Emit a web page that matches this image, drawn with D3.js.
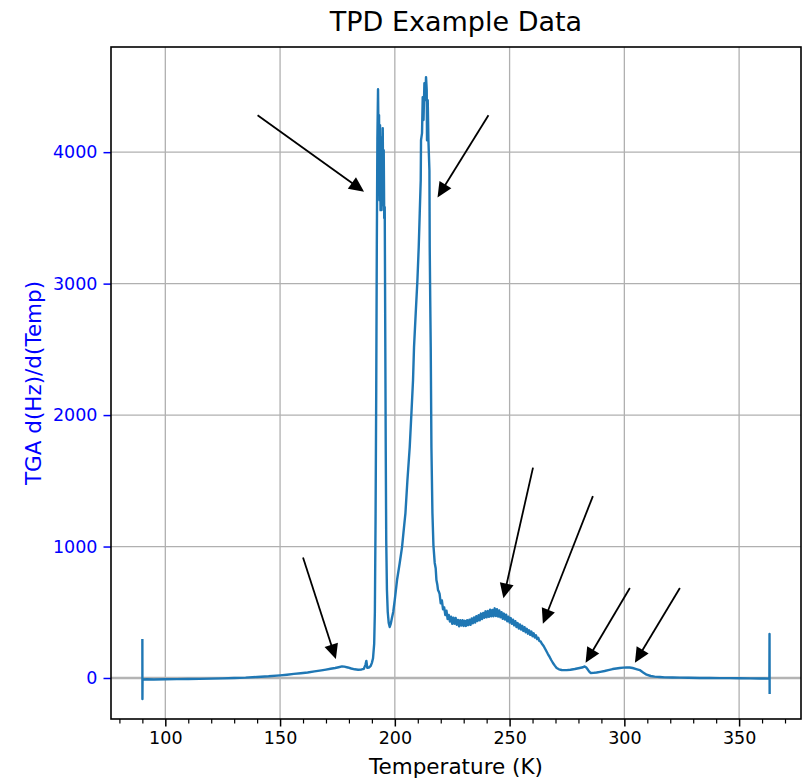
<!DOCTYPE html>
<html>
<head>
<meta charset="utf-8">
<script src="https://cdn.jsdelivr.net/npm/d3@7"></script>
<style>
  body { margin: 0; background: #fff; }
  svg { display: block; font-family: "DejaVu Sans", sans-serif; }
</style>
</head>
<body>
<svg id="chart" width="803" height="781"></svg>
<script>
// Temperature-programmed desorption trace: derivative of the TGA frequency vs temperature
const temperatureK = [
  90.00, 90.03, 90.08, 92, 95, 100, 105, 110, 115, 120,
  125, 130, 135, 140, 145, 150, 153, 156, 159, 162,
  165, 168, 170, 172, 174, 175.5, 177, 178, 179.5, 181,
  182.5, 184, 185.5, 186.5, 187.2, 187.6, 188, 188.8, 189.5, 190.0,
  190.5, 191.0, 191.3, 191.6, 191.9, 192.15, 192.4, 192.68, 192.90, 193.12,
  193.33, 193.55, 193.77, 193.99, 194.21, 194.51, 194.73, 194.95, 195.16, 195.38,
  195.60, 195.82, 196.04, 196.25, 196.56, 196.91, 197.34, 197.78, 198.21, 198.65,
  199.30, 199.96, 200.96, 202.13, 203.14, 203.88, 204.62, 205.49, 206.49, 207.23,
  207.93, 208.36, 209.10, 209.84, 210.41, 210.85, 211.28, 211.41, 211.85, 212.15,
  212.50, 212.89, 213.24, 213.59, 213.89, 214.02, 214.33, 214.63, 215.07, 215.20,
  215.42, 215.64, 215.94, 216.38, 216.81, 217.38, 217.8, 218.12, 218.5, 218.82,
  219.2, 219.5, 220.0, 220.5, 221.0, 221.5, 222.0, 222.5, 223.0, 223.5,
  224.0, 224.5, 225.0, 225.5, 226.0, 226.5, 227.0, 227.5, 228.0, 228.5,
  229.0, 229.5, 230.0, 230.5, 231.0, 231.5, 232.0, 232.5, 233.0, 233.5,
  234.0, 234.5, 235.0, 235.5, 236.0, 236.5, 237.0, 237.5, 238.0, 238.5,
  239.0, 239.5, 240.0, 240.5, 241.0, 241.5, 242.0, 242.5, 243.0, 243.5,
  244.0, 244.5, 245.0, 245.5, 246.0, 246.5, 247.0, 247.5, 248.0, 248.5,
  249.0, 249.5, 250.0, 250.5, 251.0, 251.5, 252.0, 252.5, 253.0, 253.5,
  254.0, 254.5, 255.0, 255.5, 256.0, 256.5, 257.0, 257.5, 258.0, 258.5,
  259.0, 259.5, 260.0, 260.5, 261.0, 261.5, 262.0, 262.5, 263.0, 263.5,
  264.0, 264.5, 265.0, 266.0, 266.7, 267.5, 268.2, 268.9, 269.7, 270.5,
  271.5, 272.7, 274.9, 276.5, 278.4, 280.5, 282.0, 282.7, 283.3, 284.0,
  284.7, 285.3, 286.5, 287.9, 289.5, 291.4, 293.0, 294.9, 296.5, 298.0,
  299.5, 301.0, 302.3, 303.6, 305.2, 306.7, 308.2, 309.7, 311.5, 313.2,
  315.5, 317.6, 321, 324.1, 328, 332.8, 337, 341.5, 346, 350.2,
  355, 358.9, 361, 363.2, 363.25, 363.3
];

const dHzdTemp = [
  297, -160, -12, -10, -12, -10, -9, -8, -7, -5,
  -3, 0, 3, 8, 13, 20, 25, 31, 36, 42,
  50, 58, 64, 70, 76, 82, 88, 86, 80, 72,
  66, 63, 65, 70, 100, 130, 78, 80, 92, 115,
  150, 260, 500, 1200, 2200, 3300, 4100, 4479, 4091, 4282,
  3635, 4206, 3559, 4114, 3560, 3863, 4183, 3597, 4015, 3500,
  3582, 2647, 1734, 1049, 669, 502, 418, 388, 411, 449,
  502, 593, 745, 875, 996, 1126, 1255, 1506, 1757, 2015,
  2266, 2517, 2776, 3027, 3278, 3536, 3787, 4091, 4145, 4419,
  4244, 4525, 4396, 4571, 4472, 4091, 4396, 4091, 3863, 3278,
  2875, 2517, 1757, 1255, 1011, 875, 835, 745, 712, 669,
  655, 640, 568, 590, 522, 537, 478, 512, 448, 480,
  429, 466, 412, 459, 413, 456, 405, 442, 393, 439,
  399, 440, 396, 435, 396, 439, 402, 444, 405, 453,
  416, 460, 422, 470, 433, 477, 439, 490, 448, 494,
  458, 507, 462, 509, 465, 519, 470, 517, 470, 530,
  472, 523, 467, 514, 462, 501, 450, 490, 444, 481,
  432, 466, 421, 456, 412, 444, 400, 432, 388, 418,
  376, 407, 368, 397, 358, 387, 348, 374, 337, 363,
  328, 353, 318, 340, 308, 325, 296, 305, 280, 278,
  262, 251, 238, 205, 182, 158, 135, 114, 94, 76,
  66, 61, 60, 63, 68, 76, 82, 88, 82, 66,
  48, 38, 39, 42, 47, 53, 60, 68, 72, 76,
  79, 81, 80, 76, 68, 60, 42, 25, 15, 10,
  7, 5, 4, 3, 2, 0, 1, -1, -1, -2,
  -3, -4, -4, -5, 335, -122
];

const xMajorTicks = [100, 150, 200, 250, 300, 350];
const xMinorTicks = [80, 90, 110, 120, 130, 140, 160, 170, 180, 190, 210, 220, 230, 240,
                     260, 270, 280, 290, 310, 320, 330, 340, 360, 370];
const yTicks = [0, 1000, 2000, 3000, 4000];
const yRange = [-312, 4800];

// annotation arrows: [tail temperature, tail value] -> [tip temperature, tip value]
const arrowTails = [[140.2, 4281], [240.8, 4281], [160.0, 916], [260.2, 1600],
                    [286.3, 1384], [302.4, 684], [324.2, 684]];
const arrowTips  = [[186.6, 3699], [218.6, 3656], [174.3, 144], [247.3, 606],
                    [264.5, 412], [283.1, 116], [304.6, 116]];

const titleText = "TPD Example Data";
const xLabelText = "Temperature (K)";
const yLabelText = "TGA d(Hz)/d(Temp)";

const svg = d3.select("#chart");
const plot = { left: 111, right: 801, top: 47, bottom: 719 };

const tMin = d3.min(temperatureK), tMax = d3.max(temperatureK);
const pad = (tMax - tMin) * 0.05;
const x = d3.scaleLinear().domain([tMin - pad, tMax + pad]).range([plot.left, plot.right]);
const y = d3.scaleLinear().domain(yRange).range([plot.bottom, plot.top]);

const points = temperatureK.map((t, i) => [t, dHzdTemp[i]]);

svg.append("defs").append("clipPath").attr("id", "plot-clip")
  .append("rect")
  .attr("x", plot.left).attr("y", plot.top)
  .attr("width", plot.right - plot.left).attr("height", plot.bottom - plot.top);

// grid
const grid = svg.append("g").attr("stroke", "#b0b0b0").attr("stroke-width", 1.3);
grid.selectAll("line.vx").data(xMajorTicks).join("line")
  .attr("x1", d => x(d)).attr("x2", d => x(d))
  .attr("y1", plot.top).attr("y2", plot.bottom);
grid.selectAll("line.hy").data(yTicks).join("line")
  .attr("x1", plot.left).attr("x2", plot.right)
  .attr("y1", d => y(d)).attr("y2", d => y(d));

// zero reference line
svg.append("line")
  .attr("x1", plot.left).attr("x2", plot.right)
  .attr("y1", y(0)).attr("y2", y(0))
  .attr("stroke", "#b4b4b4").attr("stroke-width", 2.6);

// TGA trace
const line = d3.line().x(d => x(d[0])).y(d => y(d[1]));
svg.append("path")
  .datum(points)
  .attr("clip-path", "url(#plot-clip)")
  .attr("fill", "none")
  .attr("stroke", "#1f77b4")
  .attr("stroke-width", 2.4)
  .attr("stroke-linejoin", "round")
  .attr("d", line);

// x axis
const xAxis = d3.axisBottom(x).tickValues(xMajorTicks).tickSize(7.5).tickPadding(5)
  .tickFormat(d3.format("d"));
const gx = svg.append("g").attr("transform", `translate(0,${plot.bottom})`).call(xAxis);
gx.select(".domain").remove();
gx.selectAll(".tick line").attr("stroke", "#000").attr("stroke-width", 1.5);
gx.selectAll(".tick text").attr("fill", "#000").attr("font-size", 17.5)
  .attr("font-family", "DejaVu Sans");
const xMinor = d3.axisBottom(x).tickValues(xMinorTicks).tickSize(4.5).tickFormat("");
const gxm = svg.append("g").attr("transform", `translate(0,${plot.bottom})`).call(xMinor);
gxm.select(".domain").remove();
gxm.selectAll(".tick line").attr("stroke", "#000").attr("stroke-width", 1.2);

// y axis
const yAxis = d3.axisLeft(y).tickValues(yTicks).tickSize(7.5).tickPadding(6)
  .tickFormat(d3.format("d"));
const gy = svg.append("g").attr("transform", `translate(${plot.left},0)`).call(yAxis);
gy.select(".domain").remove();
gy.selectAll(".tick line").attr("stroke", "#0000ff").attr("stroke-width", 1.5);
gy.selectAll(".tick text").attr("fill", "#0000ff").attr("font-size", 17.5)
  .attr("font-family", "DejaVu Sans");

// frame
svg.append("rect")
  .attr("x", plot.left).attr("y", plot.top)
  .attr("width", plot.right - plot.left).attr("height", plot.bottom - plot.top)
  .attr("fill", "none").attr("stroke", "#000").attr("stroke-width", 1.6);

// annotation arrows
const headLen = 15, headWidth = 14, shaftWidth = 1.8;
const arrows = svg.append("g");
arrowTails.forEach((tail, i) => {
  const tip = arrowTips[i];
  const x0 = x(tail[0]), y0 = y(tail[1]);
  const x1 = x(tip[0]), y1 = y(tip[1]);
  const dx = x1 - x0, dy = y1 - y0;
  const len = Math.hypot(dx, dy);
  const ux = dx / len, uy = dy / len;
  const bx = x1 - ux * headLen, by = y1 - uy * headLen;
  const px = -uy, py = ux;
  arrows.append("line")
    .attr("x1", x0).attr("y1", y0).attr("x2", bx + ux * 1).attr("y2", by + uy * 1)
    .attr("stroke", "#000").attr("stroke-width", shaftWidth);
  arrows.append("polygon")
    .attr("points", [
      [x1, y1],
      [bx + px * headWidth / 2, by + py * headWidth / 2],
      [bx - px * headWidth / 2, by - py * headWidth / 2]
    ].map(p => p.join(",")).join(" "))
    .attr("fill", "#000");
});

// labels
svg.append("text")
  .attr("x", (plot.left + plot.right) / 2).attr("y", 31)
  .attr("text-anchor", "middle").attr("font-size", 27).attr("fill", "#000")
  .text(titleText);
svg.append("text")
  .attr("x", (plot.left + plot.right) / 2).attr("y", 774)
  .attr("text-anchor", "middle").attr("font-size", 21.5).attr("fill", "#000")
  .text(xLabelText);
svg.append("text")
  .attr("transform", `translate(41,${(plot.top + plot.bottom) / 2}) rotate(-90)`)
  .attr("text-anchor", "middle").attr("font-size", 21.5).attr("fill", "#0000ff")
  .text(yLabelText);
</script>
</body>
</html>
